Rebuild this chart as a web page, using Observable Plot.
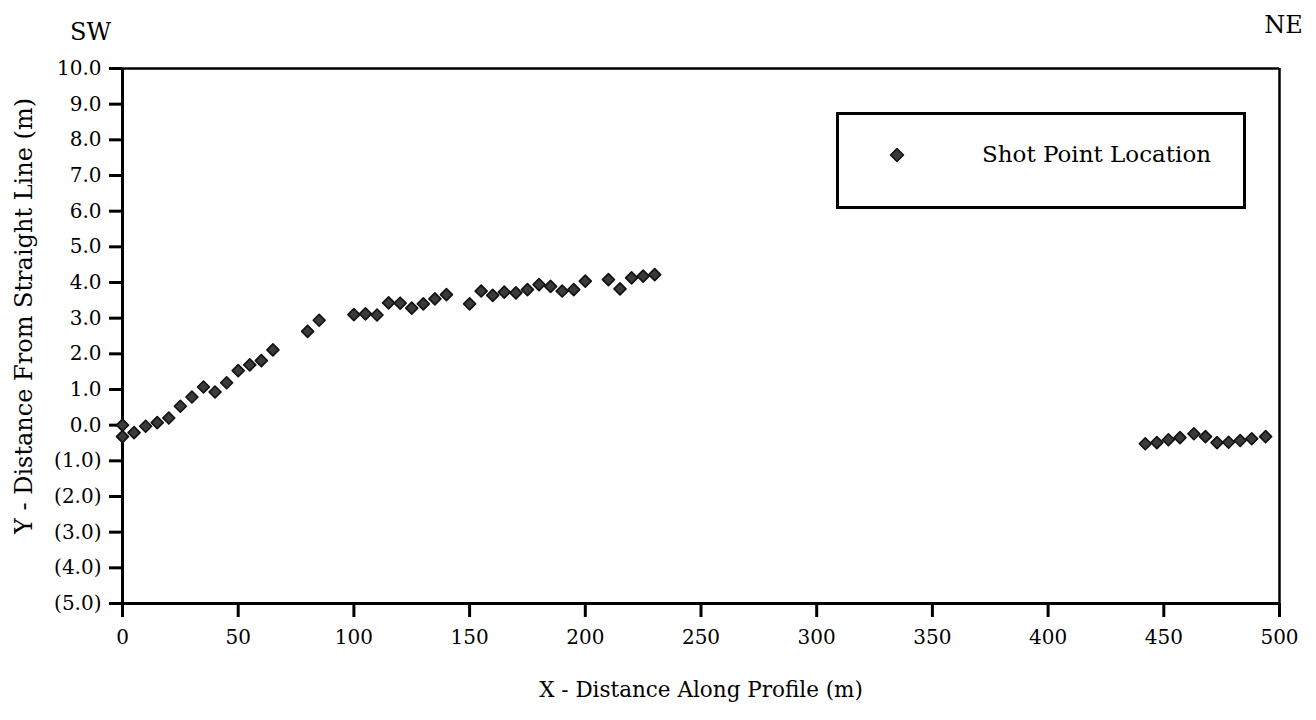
<!DOCTYPE html>
<html>
<head>
<meta charset="utf-8">
<script src="https://cdn.jsdelivr.net/npm/d3@7"></script>
<script src="https://cdn.jsdelivr.net/npm/@observablehq/plot@0.6"></script>
<style>
  html, body { margin: 0; padding: 0; background: #fff; }
  #wrap { position: relative; width: 1316px; height: 720px; font-family: "DejaVu Serif", serif; }
  #legend {
    position: absolute; left: 836px; top: 112px; width: 404px; height: 91px;
    border: 3px solid #000; background: #fff; box-sizing: content-box;
  }
  #legend svg { position: absolute; left: 0; top: 0; }
  #legend .lbl { position: absolute; left: 143px; top: 25px; font-size: 23px; line-height: 28px; color: #000; white-space: nowrap; }
</style>
</head>
<body>
<div id="wrap">
  <div id="chart"></div>
  <div id="legend">
    <svg width="120" height="91"><path d="M58,33.5 L64.5,40 L58,46.5 L51.5,40 Z" fill="#3a3a3a" stroke="#111" stroke-width="1.5" stroke-linejoin="round"/></svg>
    <span class="lbl">Shot Point Location</span>
  </div>
</div>
<script>
// Shot point positions: distance along the profile (m) and offset from the straight line (m)
const distanceAlong = [
  0, 0, 5, 10, 15, 20, 25, 30, 35, 40, 45, 50, 55, 60, 65,
  80, 85,
  100, 105, 110, 115, 120, 125, 130, 135, 140,
  150, 155, 160, 165, 170, 175, 180, 185, 190, 195, 200,
  210, 215, 220, 225, 230,
  442, 447, 452, 457, 463, 468, 473, 478, 483, 488, 494
];
const offsetFromLine = [
  0.00, -0.32, -0.21, -0.03, 0.07, 0.20, 0.53, 0.79, 1.07, 0.93, 1.19, 1.53, 1.69, 1.81, 2.11,
  2.63, 2.94,
  3.10, 3.12, 3.09, 3.43, 3.42, 3.28, 3.40, 3.54, 3.66,
  3.40, 3.76, 3.64, 3.73, 3.71, 3.80, 3.94, 3.89, 3.76, 3.80, 4.04,
  4.08, 3.82, 4.13, 4.18, 4.22,
  -0.52, -0.49, -0.41, -0.35, -0.24, -0.32, -0.49, -0.48, -0.43, -0.38, -0.32
];
const xTicks = [0, 50, 100, 150, 200, 250, 300, 350, 400, 450, 500];
const yTicks = [-5, -4, -3, -2, -1, 0, 1, 2, 3, 4, 5, 6, 7, 8, 9, 10];

const shots = distanceAlong.map((x, i) => ({x, y: offsetFromLine[i]}));

// negative offsets are written in accounting style, e.g. (2.0)
const fmtY = d => d < 0 ? `(${(-d).toFixed(1)})` : d.toFixed(1);

const chart = Plot.plot({
  width: 1316,
  height: 720,
  marginLeft: 122,
  marginRight: 37,
  marginTop: 68,
  marginBottom: 117,
  style: {fontFamily: "DejaVu Serif, serif", fontSize: "20px", color: "#000", background: "#fff"},
  x: {domain: [0, 500]},
  y: {domain: [-5, 10]},
  marks: [
    Plot.axisX({ticks: xTicks, tickSize: 14, tickPadding: 12, strokeWidth: 3, label: null, tickFormat: d => d, fontSize: 20}),
    Plot.axisY({ticks: yTicks, tickSize: 13, tickPadding: 8, strokeWidth: 3, label: null, tickFormat: fmtY, fontSize: 20}),
    Plot.ruleY([10], {strokeWidth: 2.5}),
    Plot.ruleX([500], {strokeWidth: 2.5}),
    Plot.ruleX([0], {strokeWidth: 3}),
    Plot.ruleY([-5], {strokeWidth: 3}),
    Plot.dot(shots, {x: "x", y: "y", symbol: "diamond2", r: 5.4, fill: "#3a3a3a", stroke: "#111", strokeWidth: 1.6, strokeLinejoin: "round"}),
    Plot.text(["SW"], {frameAnchor: "top-left", textAnchor: "middle", lineAnchor: "middle", dx: -32, dy: -36, fontSize: 24}),
    Plot.text(["NE"], {frameAnchor: "top-right", textAnchor: "middle", lineAnchor: "middle", dx: 4, dy: -43, fontSize: 24}),
    Plot.text(["Y - Distance From Straight Line (m)"], {frameAnchor: "left", textAnchor: "middle", lineAnchor: "middle", dx: -98, dy: -20, rotate: -90, fontSize: 24}),
    Plot.text(["X - Distance Along Profile (m)"], {frameAnchor: "bottom", textAnchor: "middle", lineAnchor: "middle", dy: 87, fontSize: 21.5})
  ]
});
document.getElementById("chart").appendChild(chart);
</script>
</body>
</html>
